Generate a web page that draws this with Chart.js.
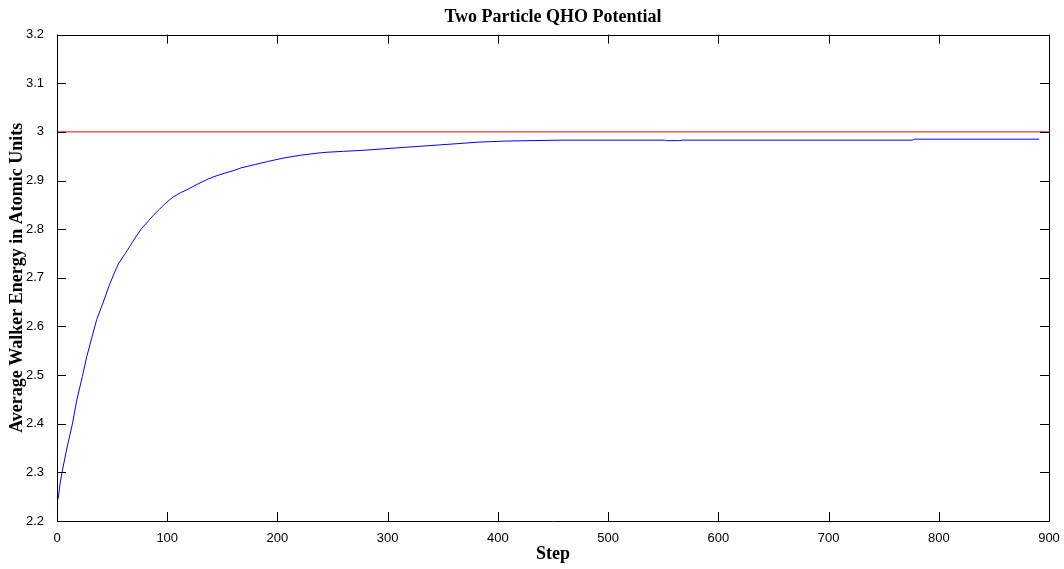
<!DOCTYPE html>
<html>
<head>
<meta charset="utf-8">
<script src="https://cdn.jsdelivr.net/npm/chart.js@4"></script>
<style>
  html, body { margin: 0; padding: 0; background: #fff; }
  #wrap { width: 1064px; height: 569px; }
</style>
</head>
<body>
<div id="wrap"><canvas id="qhoChart" width="1064" height="569"></canvas></div>
<script>
// values
const steps = [1, 3, 5, 9, 14, 18, 23, 27, 32, 36, 42, 47, 52, 56, 62, 67, 72, 77, 83, 88,
    93, 97, 102, 106, 112, 118, 127, 137, 145, 152, 161, 167, 180, 191, 205, 221, 235, 244,
    260, 277, 308, 346, 383, 406, 430, 458, 551, 553, 565, 567, 776, 778, 891];
const energies = [2.245, 2.28, 2.305, 2.35, 2.40, 2.449, 2.497, 2.538, 2.58, 2.614, 2.65, 2.682,
    2.71, 2.730, 2.75, 2.768, 2.786, 2.802, 2.817, 2.830, 2.841, 2.850, 2.860, 2.867, 2.875,
    2.881, 2.892, 2.903, 2.910, 2.915, 2.921, 2.926, 2.933, 2.939, 2.946, 2.952, 2.956, 2.958,
    2.960, 2.962, 2.967, 2.973, 2.979, 2.981, 2.982, 2.983, 2.983, 2.982, 2.982, 2.983, 2.983,
    2.985, 2.985];
const refSteps = [0, 900];
const refEnergy = [3, 3];

const xTicks = [0, 100, 200, 300, 400, 500, 600, 700, 800, 900];
const yTicks = [2.2, 2.3, 2.4, 2.5, 2.6, 2.7, 2.8, 2.9, 3.0, 3.1, 3.2];

const serif = "'Liberation Serif', 'Times New Roman', serif";
const sans = "'Liberation Sans', Arial, sans-serif";

// MATLAB style box with inward ticks on all four sides
const boxTicks = {
    id: "boxTicks",
    afterDatasetsDraw(chart) {
        const { ctx, chartArea: a, scales } = chart;
        const len = 9;
        ctx.save();
        ctx.strokeStyle = "#000";
        ctx.lineWidth = 1;
        ctx.beginPath();
        ctx.rect(Math.round(a.left) + 0.5, Math.round(a.top) + 0.5,
            Math.round(a.right - a.left), Math.round(a.bottom - a.top));
        ctx.stroke();
        ctx.beginPath();
        scales.x.ticks.forEach(t => {
            const px = Math.round(scales.x.getPixelForValue(t.value)) + 0.5;
            ctx.moveTo(px, a.bottom); ctx.lineTo(px, a.bottom - len);
            ctx.moveTo(px, a.top); ctx.lineTo(px, a.top + len);
        });
        scales.y.ticks.forEach(t => {
            const py = Math.round(scales.y.getPixelForValue(t.value)) + 0.5;
            ctx.moveTo(a.left, py); ctx.lineTo(a.left + len, py);
            ctx.moveTo(a.right, py); ctx.lineTo(a.right - len, py);
        });
        ctx.stroke();
        ctx.restore();
    }
};

new Chart(document.getElementById("qhoChart"), {
    type: "line",
    data: {
        datasets: [
            {
                data: steps.map((s, i) => ({ x: s, y: energies[i] })),
                borderColor: "#0000ff",
                borderWidth: 1,
                pointRadius: 0,
                tension: 0
            },
            {
                data: refSteps.map((s, i) => ({ x: s, y: refEnergy[i] })),
                borderColor: "#ff0000",
                borderWidth: 1,
                pointRadius: 0
            }
        ]
    },
    options: {
        responsive: false,
        animation: false,
        layout: { padding: { left: 0, right: 15, top: 0, bottom: 0 } },
        plugins: {
            legend: { display: false },
            tooltip: { enabled: false },
            title: {
                display: true,
                fullSize: false,
                text: "Two Particle QHO Potential",
                color: "#000",
                font: { family: serif, size: 18, weight: "bold", lineHeight: 1.2 },
                padding: { top: 7, bottom: 6 }
            }
        },
        scales: {
            x: {
                type: "linear",
                min: 0,
                max: 900,
                afterBuildTicks: s => { s.ticks = xTicks.map(v => ({ value: v })); },
                afterFit: s => { s.height = 48; },
                grid: { display: false },
                border: { display: false },
                ticks: { color: "#000", font: { family: sans, size: 13 }, padding: 2, maxRotation: 0 },
                title: {
                    display: true,
                    text: "Step",
                    color: "#000",
                    font: { family: serif, size: 18, weight: "bold" },
                    padding: { top: 0, bottom: 4 }
                }
            },
            y: {
                min: 2.2,
                max: 3.2,
                afterBuildTicks: s => { s.ticks = yTicks.map(v => ({ value: v })); },
                afterFit: s => { s.width = 57; },
                grid: { display: false },
                border: { display: false },
                ticks: {
                    color: "#000",
                    font: { family: sans, size: 13 },
                    padding: 5,
                    callback: v => String(Math.round(v * 10) / 10)
                },
                title: {
                    display: true,
                    text: "Average Walker Energy in Atomic Units",
                    color: "#000",
                    font: { family: serif, size: 18, weight: "bold" },
                    padding: { top: 7, bottom: 0 }
                }
            }
        }
    },
    plugins: [boxTicks]
});
</script>
</body>
</html>
